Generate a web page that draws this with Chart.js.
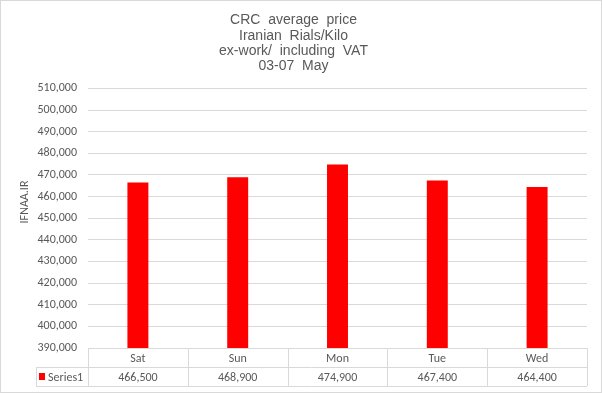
<!DOCTYPE html>
<html>
<head>
<meta charset="utf-8">
<script src="https://cdn.jsdelivr.net/npm/chart.js@4.4.0/dist/chart.umd.min.js"></script>
<style>
  html, body { margin: 0; padding: 0; background: #fff; }
  #wrap { width: 602px; height: 393px; position: relative; }
  canvas { display: block; }
</style>
</head>
<body>
<div id="wrap"><canvas id="c" width="602" height="393"></canvas></div>
<script>
const titleLines = ["CRC  average  price", "Iranian  Rials/Kilo", "ex-work/  including  VAT", "03-07  May"];
const categories = ["Sat", "Sun", "Mon", "Tue", "Wed"];
const seriesName = "Series1";
const values = [466500, 468900, 474900, 467400, 464400];
const yMin = 390000, yMax = 510000, yStep = 10000;
const yAxisTitle = "IFNAA.IR";

const gridColor = "#d9d9d9";
const textColor = "#595959";
const barColor = "#ff0000";
const tickFont = "Carlito, Lato, 'Open Sans', sans-serif";

const fmt = v => v.toLocaleString('en-US');

const tablePlugin = {
  id: 'dataTable',
  afterDraw(chart) {
    const ctx = chart.ctx;
    const x = chart.scales.x;
    const area = chart.chartArea;
    const top = area.bottom;
    const rowH = 19;
    const mid = top + rowH;
    const bot = top + rowH * 2;
    const legendLeft = 36;
    const n = categories.length;
    const colW = (area.right - area.left) / n;
    ctx.save();
    ctx.strokeStyle = gridColor;
    ctx.lineWidth = 1;
    ctx.beginPath();
    ctx.moveTo(area.left, top + 0.5); ctx.lineTo(area.right, top + 0.5);
    ctx.moveTo(legendLeft, mid + 0.5); ctx.lineTo(area.right, mid + 0.5);
    ctx.moveTo(legendLeft, bot + 0.5); ctx.lineTo(area.right, bot + 0.5);
    for (let i = 0; i <= n; i++) {
      const px = Math.round(area.left + colW * i) + 0.5;
      ctx.moveTo(px, top); ctx.lineTo(px, bot);
    }
    ctx.moveTo(legendLeft + 0.5, mid); ctx.lineTo(legendLeft + 0.5, bot);
    ctx.stroke();

    ctx.fillStyle = textColor;
    ctx.font = "12px " + tickFont;
    ctx.textAlign = 'center';
    ctx.textBaseline = 'middle';
    for (let i = 0; i < n; i++) {
      const cx = x.getPixelForValue(i);
      ctx.fillText(categories[i], cx, top + rowH / 2 + 1);
      ctx.fillText(fmt(values[i]), cx, mid + rowH / 2 + 1);
    }
    ctx.fillStyle = barColor;
    ctx.fillRect(39, mid + 6, 6, 7);
    ctx.fillStyle = textColor;
    ctx.textAlign = 'left';
    ctx.fillText(seriesName, 48, mid + rowH / 2 + 1);

    ctx.save();
    ctx.translate(25, 202);
    ctx.rotate(-Math.PI / 2);
    ctx.textAlign = 'center';
    ctx.textBaseline = 'middle';
    ctx.font = "12px " + tickFont;
    ctx.fillText(yAxisTitle, 0, 0);
    ctx.restore();

    ctx.strokeStyle = gridColor;
    ctx.strokeRect(0.5, 0.5, chart.width - 1, chart.height - 1);
    ctx.restore();
  }
};

new Chart(document.getElementById('c'), {
  type: 'bar',
  data: {
    labels: categories,
    datasets: [{
      label: seriesName,
      data: values,
      backgroundColor: barColor,
      borderWidth: 0,
      barPercentage: 0.5,
      categoryPercentage: 0.42
    }]
  },
  options: {
    responsive: false,
    animation: false,
    devicePixelRatio: 1,
    layout: { padding: { left: 0, right: 15, top: 0, bottom: 45 } },
    plugins: {
      legend: { display: false },
      tooltip: { enabled: false },
      title: {
        display: true,
        text: titleLines,
        color: textColor,
        font: { family: "'Liberation Sans', Arial, sans-serif", size: 14, weight: 'normal', lineHeight: 1.08 },
        padding: { top: 13, bottom: 15 }
      }
    },
    scales: {
      x: {
        display: false,
        offset: true,
        grid: { display: false }
      },
      y: {
        min: yMin,
        max: yMax,
        afterFit(axis) { axis.width = 88; },
        border: { display: false },
        grid: { color: gridColor, drawTicks: false },
        ticks: {
          stepSize: yStep,
          padding: 11,
          color: textColor,
          font: { family: tickFont, size: 12 },
          callback: v => fmt(v)
        }
      }
    }
  },
  plugins: [tablePlugin]
});
</script>
</body>
</html>
